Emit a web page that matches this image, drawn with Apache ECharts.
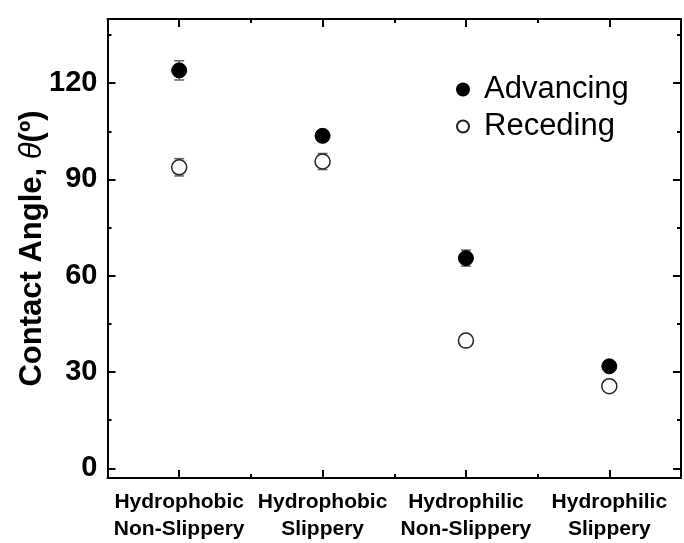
<!DOCTYPE html>
<html><head><meta charset="utf-8">
<script src="https://cdn.jsdelivr.net/npm/echarts@6/dist/echarts.min.js"></script>
<style>html,body{margin:0;padding:0;background:#fff}#c{width:684px;height:543px}</style>
</head><body><div id="c"></div>
<script>
const categories = ['Hydrophobic\nNon-Slippery','Hydrophobic\nSlippery','Hydrophilic\nNon-Slippery','Hydrophilic\nSlippery'];
const categoryPositions = [1,2,3,4];
const advancing = [124.0, 103.6, 65.5, 31.8];
const advancingErr = [3.0, 1.5, 2.5, 1.2];
const receding = [93.8, 95.6, 39.8, 25.6];
const recedingErr = [2.7, 2.5, 1.5, 1.2];
const yMajorTicks = [0, 30, 60, 90, 120];
const yMinorTicks = [15, 45, 75, 105, 135];
const xMinorTicks = [1.5, 2.5, 3.5];

const FONT = 'Liberation Sans';
const chart = echarts.init(document.getElementById('c'), null, {renderer:'canvas'});

function xAx(position, ticks, len, showLine, showLabel){
  return {
    type:'value', position, min:0.5, max:4.5,
    axisLine:{show:showLine, onZero:false, lineStyle:{color:'#000', width:2}},
    axisTick:{show:true, inside:true, length:len, customValues:ticks, lineStyle:{color:'#000', width:2}},
    axisLabel:{show:showLabel, customValues:ticks, margin:11,
      formatter:(v)=>categories[Math.round(v)-1] || '',
      fontFamily:FONT, fontWeight:'bold', fontSize:21, color:'#000', lineHeight:27},
    splitLine:{show:false}
  };
}
function yAx(position, ticks, len, showLine, showLabel, withName){
  const a = {
    type:'value', position, min:-3, max:140,
    axisLine:{show:showLine, onZero:false, lineStyle:{color:'#000', width:2}},
    axisTick:{show:true, inside:true, length:len, customValues:ticks, lineStyle:{color:'#000', width:2}},
    axisLabel:{show:showLabel, customValues:ticks, margin:10,
      fontFamily:FONT, fontWeight:'bold', fontSize:29, color:'#000'},
    splitLine:{show:false}
  };
  if (withName){
    a.name = 'Contact Angle, {i|θ}(º)';
    a.nameLocation = 'middle';
    a.nameRotate = 90;
    a.nameGap = 60;
    a.nameMoveOverlap = false;
    a.nameTextStyle = {fontFamily:FONT, fontWeight:'bold', fontSize:31, color:'#000',
      rich:{i:{fontFamily:FONT, fontStyle:'italic', fontWeight:'normal', fontSize:31, color:'#000'}}};
  }
  return a;
}

function errRender(params, api){
  const x = api.value(0), lo = api.value(1), hi = api.value(2);
  const pLo = api.coord([x, lo]), pHi = api.coord([x, hi]);
  const w = 5;
  const style = {stroke:'#666', lineWidth:1.5};
  return {type:'group', children:[
    {type:'line', shape:{x1:pLo[0], y1:pLo[1], x2:pHi[0], y2:pHi[1]}, style},
    {type:'line', shape:{x1:pLo[0]-w, y1:pLo[1], x2:pLo[0]+w, y2:pLo[1]}, style},
    {type:'line', shape:{x1:pHi[0]-w, y1:pHi[1], x2:pHi[0]+w, y2:pHi[1]}, style}
  ]};
}
const errData = (vals, errs) => categoryPositions.map((p,i)=>[p, vals[i]-errs[i], vals[i]+errs[i]]);

chart.setOption({
  animation:false,
  backgroundColor:'#fff',
  grid:{left:107.5, right:3, top:19, bottom:60, containLabel:false},
  xAxis:[
    xAx('bottom', categoryPositions, 8, true, true),
    xAx('bottom', xMinorTicks, 4, false, false),
    xAx('top', categoryPositions, 8, true, false),
    xAx('top', xMinorTicks, 4, false, false)
  ],
  yAxis:[
    yAx('left', yMajorTicks, 8, true, true, true),
    yAx('left', yMinorTicks, 4, false, false, false),
    yAx('right', yMajorTicks, 8, true, false, false),
    yAx('right', yMinorTicks, 4, false, false, false)
  ],
  legend:{
    orient:'vertical', left:451, top:69, itemWidth:22, itemHeight:12, itemGap:6,
    icon:'circle',
    textStyle:{fontFamily:FONT, fontSize:31, color:'#000', lineHeight:28, padding:[0,0,0,5]},
    data:['Advancing','Receding']
  },
  series:[
    {type:'custom', name:'errA', renderItem:errRender, data:errData(advancing, advancingErr), z:1, silent:true},
    {type:'custom', name:'errR', renderItem:errRender, data:errData(receding, recedingErr), z:1, silent:true},
    {type:'scatter', name:'Advancing', symbol:'circle', symbolSize:15, z:3,
      itemStyle:{color:'#000', borderColor:'#000', borderWidth:1, opacity:1},
      data:categoryPositions.map((p,i)=>[p, advancing[i]])},
    {type:'scatter', name:'Receding', symbol:'circle', symbolSize:15, z:3,
      itemStyle:{color:'#fff', borderColor:'#222', borderWidth:1.5, opacity:1},
      data:categoryPositions.map((p,i)=>[p, receding[i]])}
  ]
});
</script></body></html>
